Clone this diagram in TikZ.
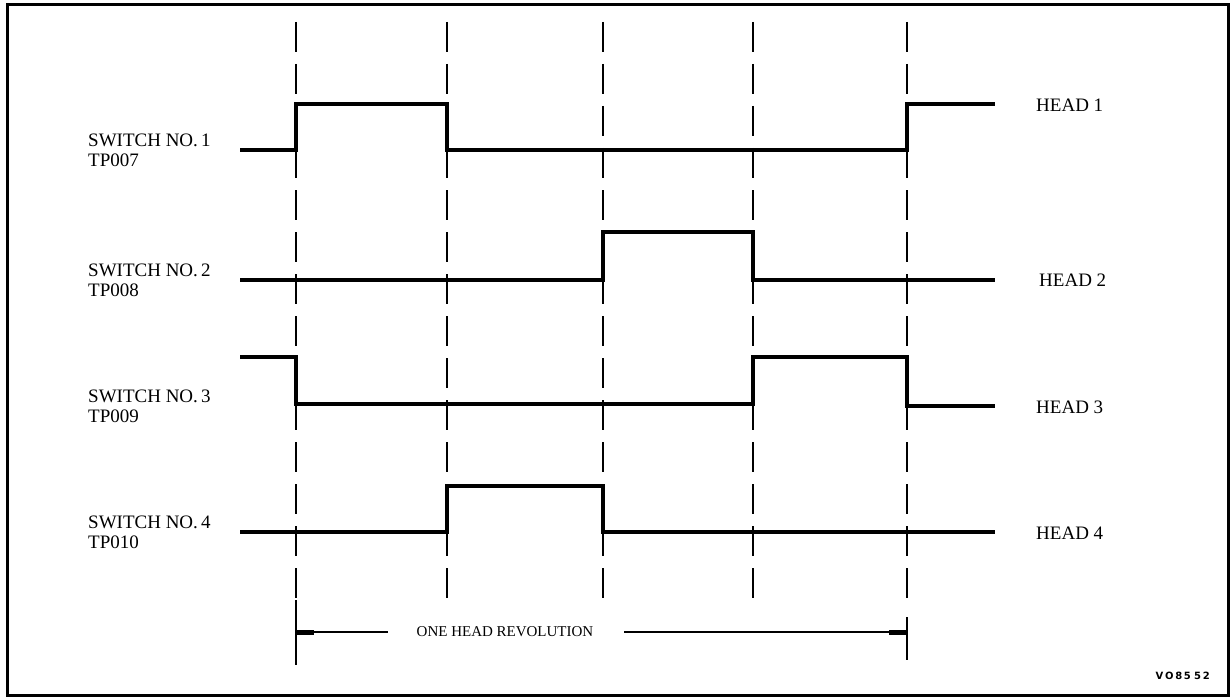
\documentclass[tikz,border=0pt]{standalone}
\usepackage{fontspec}
\setmainfont{Liberation Serif}
\newfontfamily\codefont{DejaVu Sans}
\begin{document}
\begin{tikzpicture}[x=1pt,y=-1pt,
  frame/.style={line width=3pt},
  sig/.style={line width=3.2pt,line join=miter},
  grid/.style={line width=1.8pt,dash pattern=on 30pt off 12pt},
  lab/.style={font=\fontsize{19}{20}\selectfont,align=left,anchor=west,inner sep=0pt},
  stub/.style={line width=5pt}]
\useasboundingbox (0,0) rectangle (1231,698);
\draw[frame] (7,5) rectangle (1228,695);
% timing grid
\foreach \x in {447,603,753,907} \draw[grid] (\x,22) -- (\x,604);
\draw[grid] (296,22) -- (296,600);
\draw[line width=1.8pt] (296,600) -- (296,665);
\draw[line width=1.8pt] (907,617) -- (907,660);
% waveforms
\draw[sig] (240,150) -- (296,150) -- (296,104) -- (447,104) -- (447,150) -- (907,150) -- (907,104) -- (995,104);
\draw[sig] (240,280) -- (603,280) -- (603,232) -- (753,232) -- (753,280) -- (995,280);
\draw[sig] (240,357) -- (296,357) -- (296,404) -- (753,404) -- (753,357) -- (907,357) -- (907,406) -- (995,406);
\draw[sig] (240,532) -- (447,532) -- (447,486) -- (603,486) -- (603,532) -- (995,532);
% labels
\node[lab] (s1) at (88,150) {SWITCH NO.\,1\\TP007};
\node[lab] (s2) at (88,280) {SWITCH NO.\,2\\TP008};
\node[lab] (s3) at (88,406) {SWITCH NO.\,3\\TP009};
\node[lab] (s4) at (88,532) {SWITCH NO.\,4\\TP010};
\node[lab] (h1) at (1036,105) {HEAD 1};
\node[lab] (h2) at (1039,280) {HEAD 2};
\node[lab] (h3) at (1036,407) {HEAD 3};
\node[lab] (h4) at (1036,533) {HEAD 4};
% revolution arrow
\node[lab,anchor=center,font=\fontsize{15}{18}\selectfont] (rev) at (505,632) {ONE HEAD REVOLUTION};
\coordinate (rl) at (296,632);
\coordinate (rr) at (907,632);
\draw[line width=1.5pt] (rl) -- (388,632);
\draw[line width=1.5pt] (624,632) -- (rr);
\draw[stub] (rl) -- ++(18,0);
\draw[stub] (rr) -- ++(-18,0);
\node[font=\codefont\bfseries\fontsize{10}{12}\selectfont,anchor=east,inner sep=0pt] (code) at (1210,676) {V\,O\,8\,5\,\,5\,2};
\end{tikzpicture}
\end{document}
